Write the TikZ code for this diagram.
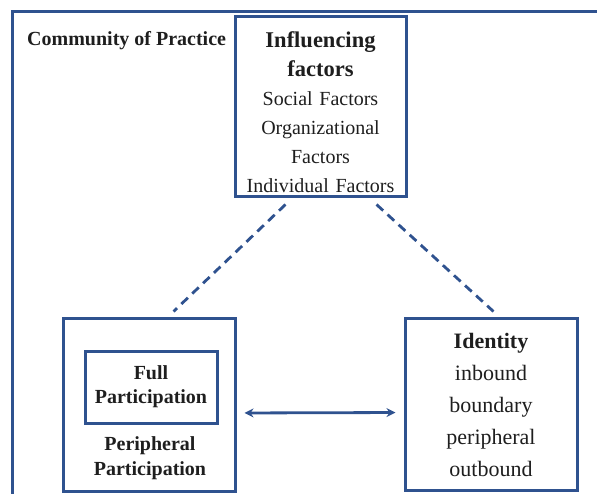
\documentclass[tikz,border=0pt]{standalone}
\usepackage{fontspec}
\setmainfont{Liberation Serif}
\usetikzlibrary{arrows.meta}
\definecolor{frameblue}{RGB}{47,82,143}
\definecolor{textgray}{RGB}{30,30,30}

\begin{document}
\begin{tikzpicture}[x=1pt, y=-1pt, >= {Stealth[length=9pt, width=9pt]},
  box/.style={draw=frameblue, line width=3pt, align=center, text=textgray, inner sep=0pt},
  link/.style={frameblue, line width=2.8pt, dash pattern=on 9pt off 6pt}]
  \clip (0, 0) rectangle (597, 494);
  \draw [frameblue, line width=3pt] (12, 12) rectangle (620, 520);
  \node [anchor=base west, inner sep=0pt, text=textgray, font=\bfseries\fontsize{20}{24}\selectfont] (cop) at (27, 46) {Community of Practice};

  % influencing factors
  \node [box, minimum width=171pt, minimum height=180pt, text width=165pt,
         font=\fontsize{20}{29}\selectfont] (infl) at (320.5, 107)
    {{\bfseries\fontsize{22.5}{29}\selectfont \rule{0pt}{26pt}Influencing\\ factors}\\ Social Factors\\ Organizational\\ Factors\\ Individual Factors};

  % participation
  \node [box, minimum width=172pt, minimum height=172pt] (part) at (149, 405) {};
  \node [box, minimum width=132pt, minimum height=72pt, text width=128pt,
         font=\bfseries\fontsize{20}{24}\selectfont] (full) at (151, 387) {Full\\ Participation};
  \node [align=center, text=textgray, font=\bfseries\fontsize{20}{25}\selectfont] (periph) at (150, 458.5) {Peripheral\\ Participation};

  % identity
  \node [box, minimum width=172pt, minimum height=171pt, text width=166pt,
         font=\fontsize{22}{32}\selectfont] (ident) at (491, 404.5)
    {{\bfseries Identity}\\ inbound\\ boundary\\ peripheral\\ outbound};

  \draw [link] ([xshift=52pt, yshift=-6pt]infl.south west) -- ([xshift=112pt, yshift=6pt]part.north west);
  \draw [link] ([xshift=-31pt, yshift=-6pt]infl.south east) -- ([xshift=90pt, yshift=6pt]ident.north west);
  \draw [frameblue, line width=2.8pt, <->, shorten <=8pt, shorten >=8pt] ([yshift=-8pt]part.east) -- ([yshift=-8pt]ident.west);
\end{tikzpicture}
\end{document}
